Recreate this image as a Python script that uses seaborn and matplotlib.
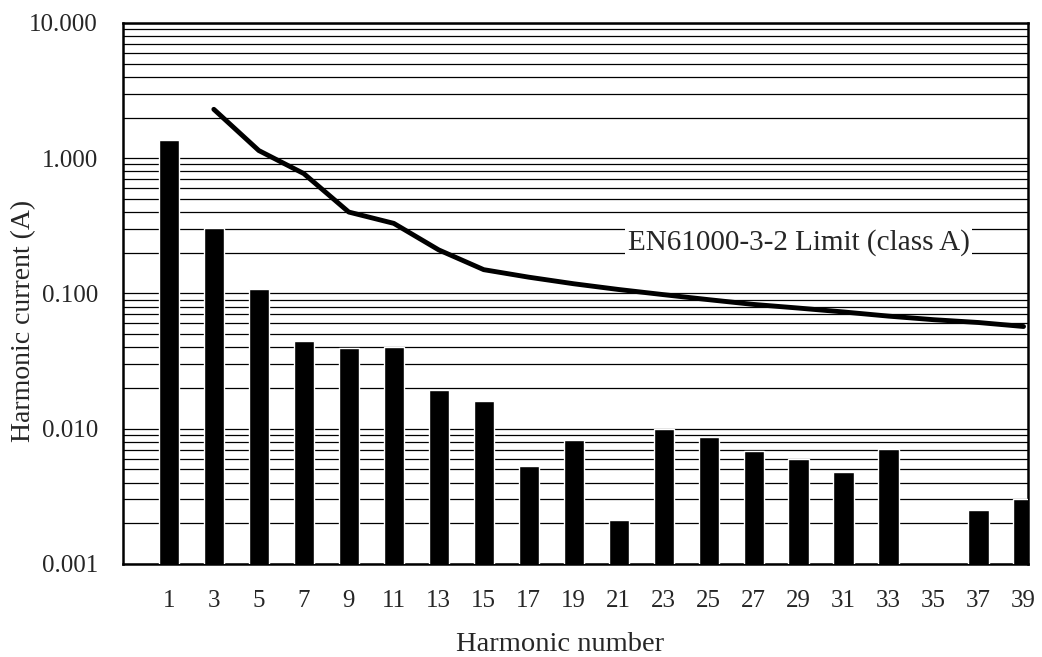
import matplotlib
matplotlib.use("Agg")
import matplotlib.pyplot as plt
import seaborn as sns
import numpy as np
import pandas as pd
from matplotlib.ticker import LogLocator, FormatStrFormatter

# measured harmonic currents (A), harmonic 35 not measured
harmonics = [1, 3, 5, 7, 9, 11, 13, 15, 17, 19, 21, 23, 25, 27, 29, 31, 33, 35, 37, 39]
current = [1.36, 0.305, 0.108, 0.0443, 0.0395, 0.0404, 0.0194, 0.016, 0.0053, 0.0082,
           0.0021, 0.0099, 0.0087, 0.0068, 0.0060, 0.0048, 0.0071, np.nan, 0.0025, 0.0030]

# EN61000-3-2 class A limit
limit_harm = [3, 5, 7, 9, 11, 13, 15, 17, 19, 21, 23, 25, 27, 29, 31, 33, 35, 37, 39]
limit = [2.30, 1.14, 0.77, 0.40, 0.33, 0.21, 0.15, 0.132, 0.118, 0.107, 0.098, 0.090,
         0.083, 0.078, 0.073, 0.068, 0.064, 0.061, 0.057]

sns.set_style("white")
plt.rcParams['font.family'] = ['Liberation Serif', 'DejaVu Serif']

df = pd.DataFrame({"harmonic": [str(h) for h in harmonics], "current": current})
order = [str(h) for h in harmonics]

fig = plt.figure(figsize=(10.42, 6.57), dpi=100)
ax = fig.add_axes([0.118, 0.1416, 0.8686, 0.8234])
ax.set_yscale("log")

sns.barplot(data=df, x="harmonic", y="current", order=order, color="black",
            saturation=1, width=0.45, ax=ax, zorder=3)

xpos = [order.index(str(h)) for h in limit_harm]
ax.plot(xpos, limit, color="black", lw=3.5, solid_capstyle="round", zorder=4)

ax.set_ylim(0.001, 10)
ax.set_xlim(-1.02, 19.1)
ax.yaxis.set_major_locator(LogLocator(base=10))
ax.yaxis.set_minor_locator(LogLocator(base=10, subs=np.arange(2, 10)))
ax.yaxis.set_major_formatter(FormatStrFormatter("%.3f"))
ax.yaxis.set_minor_formatter(plt.NullFormatter())
ax.grid(True, which="both", axis="y", color="black", lw=0.9, zorder=0)
ax.set_axisbelow(True)

ax.tick_params(axis="both", which="both", length=0, labelsize=18)
ax.tick_params(axis="x", pad=19)
ax.tick_params(axis="y", pad=18)

for s in ax.spines.values():
    s.set_color("black")
    s.set_linewidth(1.8)

ax.set_xlabel("Harmonic number", fontsize=20.5)
ax.set_ylabel("Harmonic current (A)", fontsize=20)
ax.xaxis.set_label_coords(0.483, -0.125)
ax.yaxis.set_label_coords(-0.096, 0.45)

ax.text(14, 0.24, "EN61000-3-2 Limit (class A)", fontsize=21, ha="center", va="center",
        bbox=dict(facecolor="white", edgecolor="none", pad=2), zorder=5)

fig.savefig("out.png", dpi=100)
